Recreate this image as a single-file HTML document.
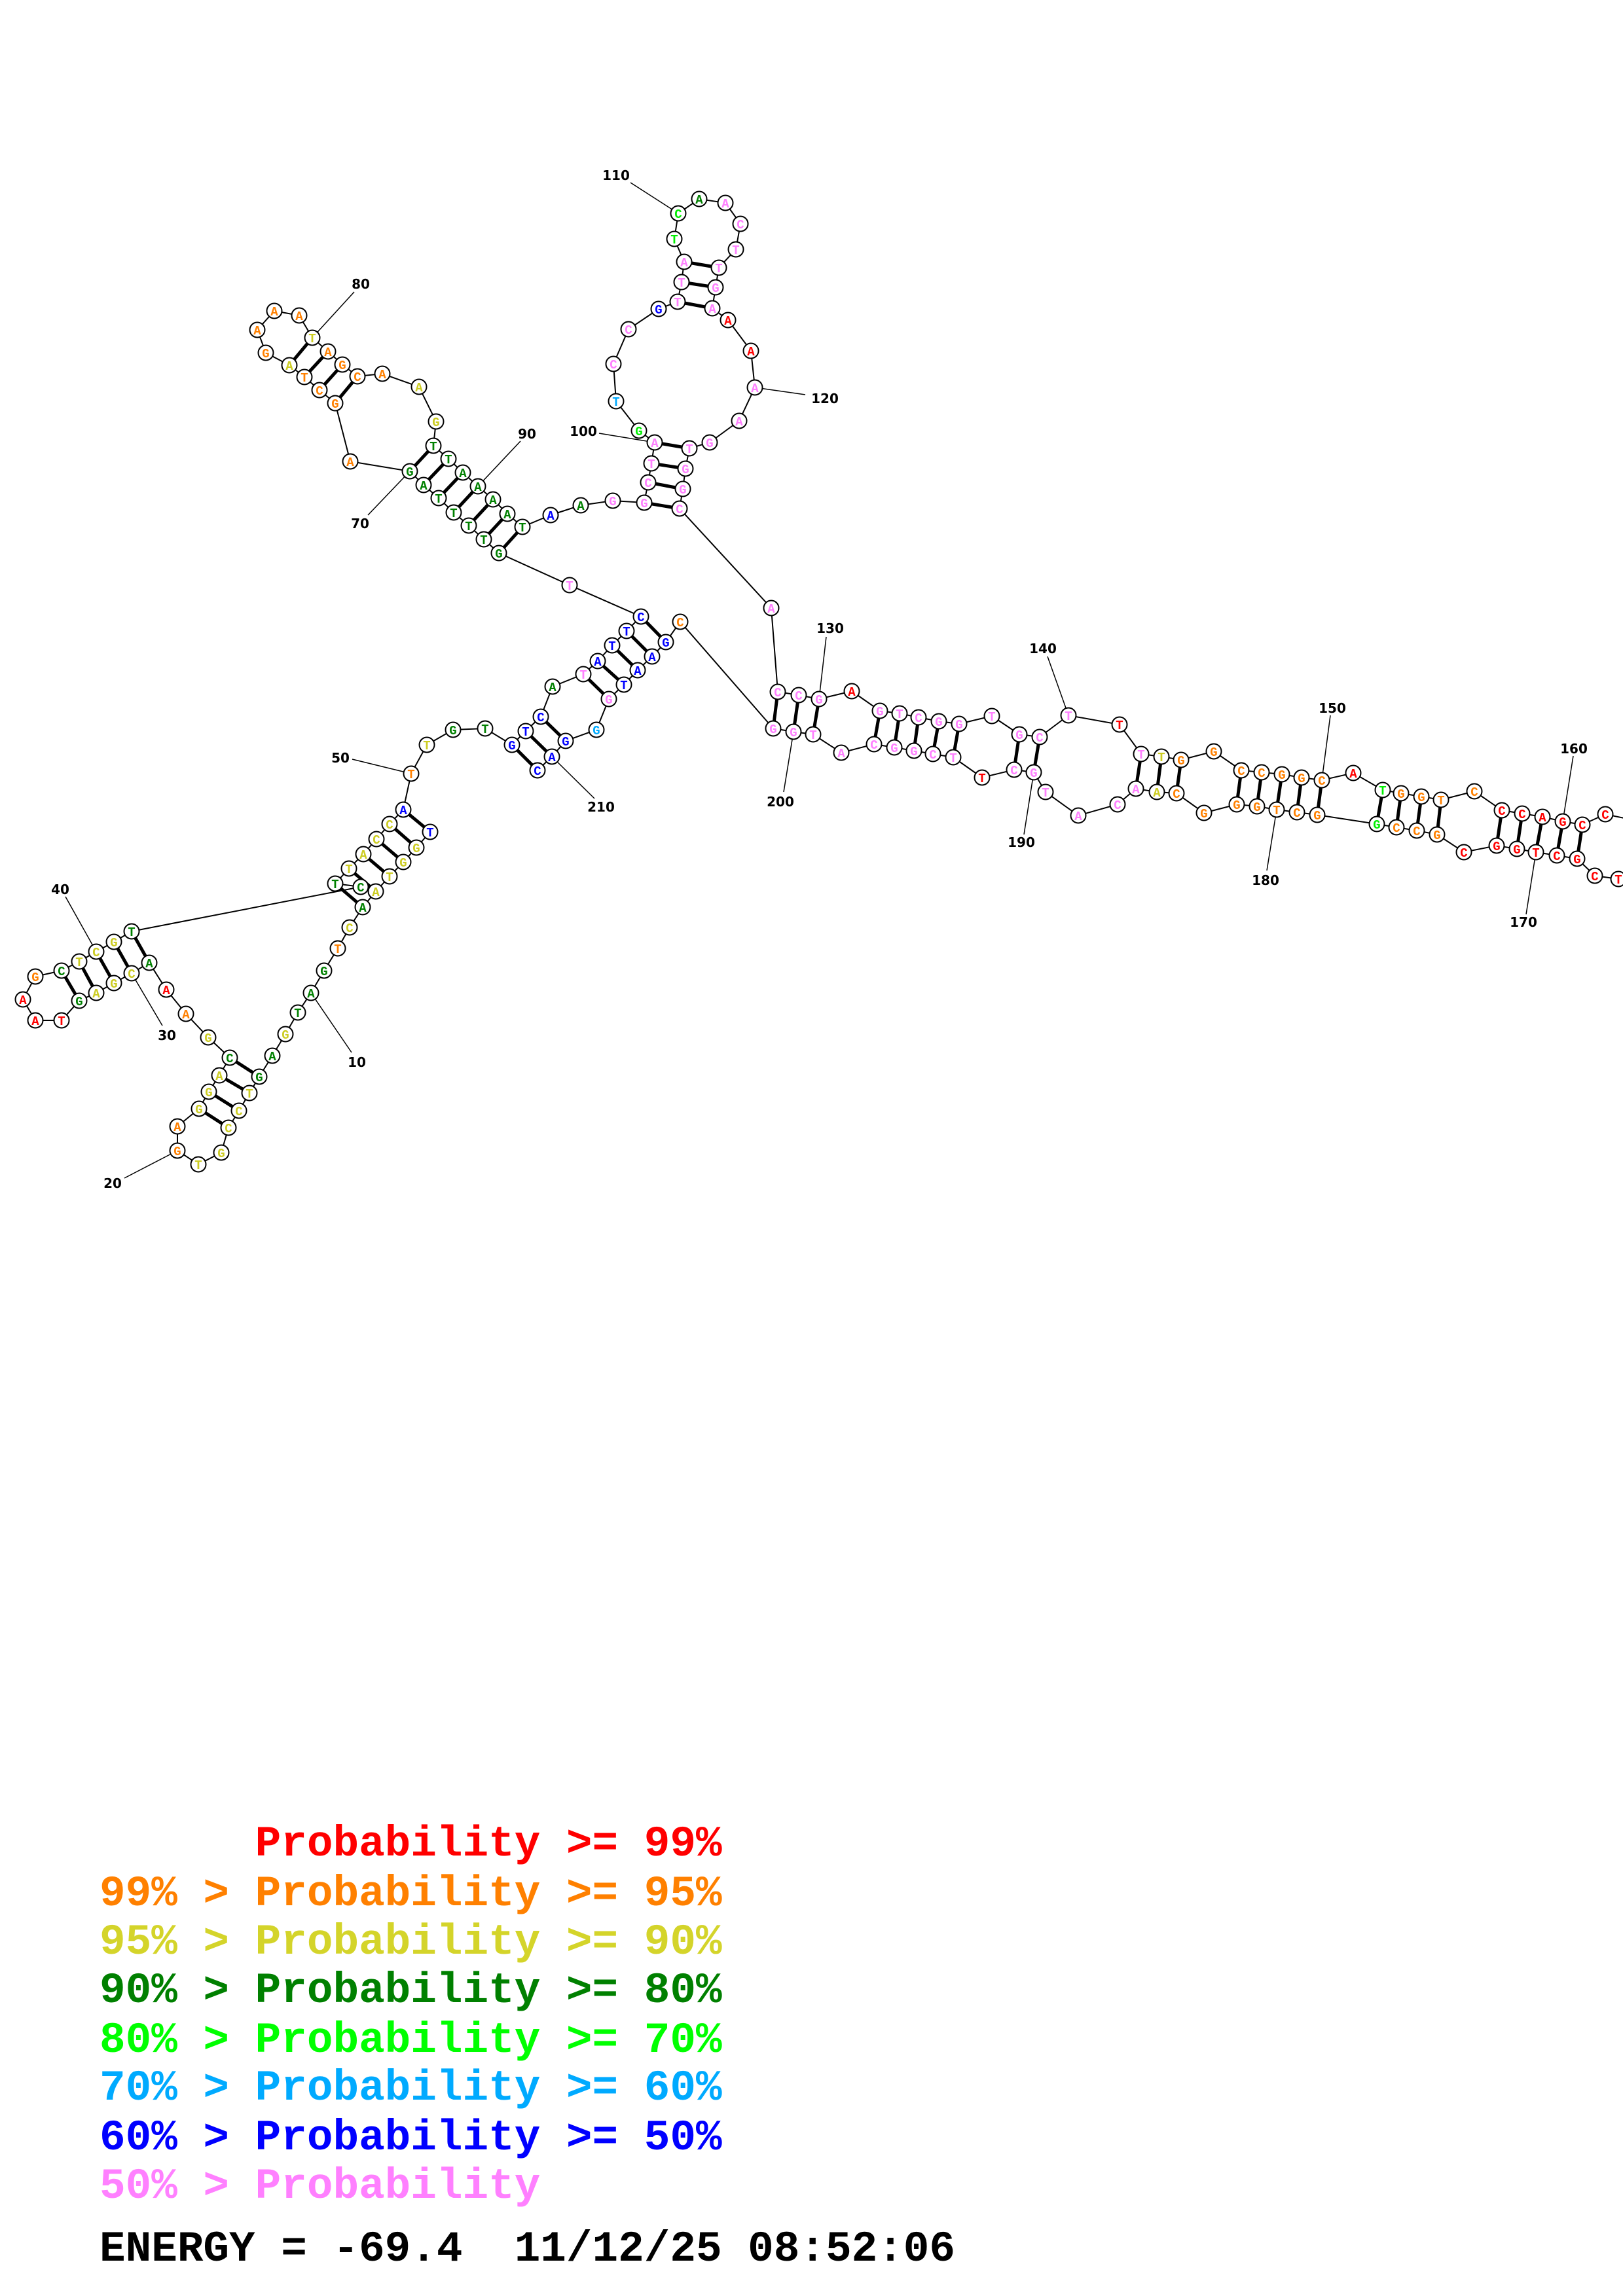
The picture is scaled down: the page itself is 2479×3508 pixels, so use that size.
<!DOCTYPE html>
<html><head><meta charset="utf-8">
<style>
html,body{margin:0;padding:0;background:#fff;}
svg{display:block;}
circle{fill:#fff;stroke:#000;stroke-width:2;}
.n{font-family:"Liberation Mono",monospace;font-weight:bold;font-size:19px;text-anchor:middle;}
.r{fill:#ff0000}.o{fill:#ff8000}.y{fill:#cccc22}.g{fill:#008000}.l{fill:#00ee00}.c{fill:#00aaff}.b{fill:#0000ff}.p{fill:#ff80ff}
.lab{font-family:"DejaVu Sans","Liberation Sans",sans-serif;font-weight:bold;font-size:20px;text-anchor:middle;fill:#000;}
.leg{font-family:"Liberation Mono",monospace;font-weight:bold;font-size:66px;white-space:pre;}
.bb{fill:none;stroke:#000;stroke-width:2;}
.pr{stroke:#000;stroke-width:5;}
.ll{stroke:#000;stroke-width:1.5;}
</style></head>
<body>
<svg width="2479" height="3508" viewBox="0 0 2479 3508" xmlns="http://www.w3.org/2000/svg">
<rect width="2479" height="3508" fill="#fff"/>
<!-- backbone -->
<polyline class="bb" points="657,1271 636,1295 616,1317 595,1339 574,1362 554,1386 534,1417 516,1449 495,1483 475,1517 455,1547 436,1580 416,1613 396,1645 381,1670 365,1697 349,1723 338,1761 303,1779 271,1758 271,1721 304,1694 319,1668 335,1643 351,1616 318,1585 284,1549 254,1512 228,1471 201,1487 174,1502 147,1517 121,1529 94,1559 54,1559 35,1527 54,1492 94,1483 121,1469 147,1454 174,1439 201,1423 551,1355 512,1350 533,1327 555,1305 575,1282 595,1259 616,1237 628,1182 652,1138 692,1115 741,1113 782,1138 803,1117 826,1095 844,1049 891,1030 913,1010 935,986 957,964 979,942 870,894 762,845 739,824 716,803 693,783 670,761 647,741 626,720 535,705 512,616 488,596 465,576 442,558 406,539 393,504 419,475 457,482 477,516 501,537 523,557 546,575 584,571 640,591 666,644 662,681 685,701 707,722 730,743 753,763 775,785 798,805 841,787 887,772 936,765 984,768 990,737 995,708 1000,676 976,658 941,613 937,556 960,503 1006,472 1035,461 1041,431 1045,400 1030,365 1036,326 1068,304 1108,310 1131,342 1124,381 1098,409 1093,439 1088,471 1112,489 1147,536 1153,592 1129,643 1084,676 1053,685 1047,716 1043,747 1038,777 1178,929 1188,1057 1220,1062 1251,1068 1301,1056 1344,1086 1374,1090 1403,1096 1434,1102 1465,1106 1515,1094 1557,1122 1588,1126 1632,1093 1710,1107 1743,1152 1774,1156 1804,1161 1854,1148 1896,1177 1927,1180 1958,1183 1988,1188 2019,1192 2067,1181 2112,1207 2140,1212 2171,1217 2201,1222 2252,1209 2294,1238 2325,1243 2356,1248 2387,1255 2417,1260 2452,1244 2505,1255 2520,1290 2505,1340 2472,1343 2436,1338 2409,1312 2378,1307 2346,1302 2317,1297 2286,1292 2236,1302 2195,1275 2164,1269 2133,1264 2103,1259 2012,1245 1981,1241 1950,1237 1920,1232 1889,1229 1839,1242 1797,1212 1767,1210 1735,1205 1707,1229 1647,1246 1597,1210 1579,1180 1549,1176 1500,1188 1456,1157 1425,1152 1396,1147 1366,1142 1335,1137 1285,1150 1242,1122 1212,1118 1181,1113 1039,950 1017,981 996,1003 974,1024 953,1046 930,1068 911,1115 864,1132 843,1156 821,1177"/>
<!-- pairs -->
<g class="pr">
<line x1="657" y1="1271" x2="616" y2="1237"/><line x1="636" y1="1295" x2="595" y2="1259"/><line x1="616" y1="1317" x2="575" y2="1282"/><line x1="595" y1="1339" x2="555" y2="1305"/><line x1="574" y1="1362" x2="533" y2="1327"/><line x1="554" y1="1386" x2="512" y2="1350"/>
<line x1="396" y1="1645" x2="351" y2="1616"/><line x1="381" y1="1670" x2="335" y2="1643"/><line x1="365" y1="1697" x2="319" y2="1668"/><line x1="349" y1="1723" x2="304" y2="1694"/>
<line x1="228" y1="1471" x2="201" y2="1423"/><line x1="201" y1="1487" x2="174" y2="1439"/><line x1="174" y1="1502" x2="147" y2="1454"/><line x1="147" y1="1517" x2="121" y2="1469"/><line x1="121" y1="1529" x2="94" y2="1483"/>
<line x1="782" y1="1138" x2="821" y2="1177"/><line x1="803" y1="1117" x2="843" y2="1156"/><line x1="826" y1="1095" x2="864" y2="1132"/>
<line x1="891" y1="1030" x2="930" y2="1068"/><line x1="913" y1="1010" x2="953" y2="1046"/><line x1="935" y1="986" x2="974" y2="1024"/><line x1="957" y1="964" x2="996" y2="1003"/><line x1="979" y1="942" x2="1017" y2="981"/>
<line x1="762" y1="845" x2="798" y2="805"/><line x1="739" y1="824" x2="775" y2="785"/><line x1="716" y1="803" x2="753" y2="763"/><line x1="693" y1="783" x2="730" y2="743"/><line x1="670" y1="761" x2="707" y2="722"/><line x1="647" y1="741" x2="685" y2="701"/><line x1="626" y1="720" x2="662" y2="681"/>
<line x1="512" y1="616" x2="546" y2="575"/><line x1="488" y1="596" x2="523" y2="557"/><line x1="465" y1="576" x2="501" y2="537"/><line x1="442" y1="558" x2="477" y2="516"/>
<line x1="984" y1="768" x2="1038" y2="777"/><line x1="990" y1="737" x2="1043" y2="747"/><line x1="995" y1="708" x2="1047" y2="716"/><line x1="1000" y1="676" x2="1053" y2="685"/>
<line x1="1035" y1="461" x2="1088" y2="471"/><line x1="1041" y1="431" x2="1093" y2="439"/><line x1="1045" y1="400" x2="1098" y2="409"/>
<line x1="1188" y1="1057" x2="1181" y2="1113"/><line x1="1220" y1="1062" x2="1212" y2="1118"/><line x1="1251" y1="1068" x2="1242" y2="1122"/>
<line x1="1344" y1="1086" x2="1335" y2="1137"/><line x1="1374" y1="1090" x2="1366" y2="1142"/><line x1="1403" y1="1096" x2="1396" y2="1147"/><line x1="1434" y1="1102" x2="1425" y2="1152"/><line x1="1465" y1="1106" x2="1456" y2="1157"/>
<line x1="1557" y1="1122" x2="1549" y2="1176"/><line x1="1588" y1="1126" x2="1579" y2="1180"/>
<line x1="1743" y1="1152" x2="1735" y2="1205"/><line x1="1774" y1="1156" x2="1767" y2="1210"/><line x1="1804" y1="1161" x2="1797" y2="1212"/>
<line x1="1896" y1="1177" x2="1889" y2="1229"/><line x1="1927" y1="1180" x2="1920" y2="1232"/><line x1="1958" y1="1183" x2="1950" y2="1237"/><line x1="1988" y1="1188" x2="1981" y2="1241"/><line x1="2019" y1="1192" x2="2012" y2="1245"/>
<line x1="2112" y1="1207" x2="2103" y2="1259"/><line x1="2140" y1="1212" x2="2133" y2="1264"/><line x1="2171" y1="1217" x2="2164" y2="1269"/><line x1="2201" y1="1222" x2="2195" y2="1275"/>
<line x1="2294" y1="1238" x2="2286" y2="1292"/><line x1="2325" y1="1243" x2="2317" y2="1297"/><line x1="2356" y1="1248" x2="2346" y2="1302"/><line x1="2387" y1="1255" x2="2378" y2="1307"/><line x1="2417" y1="1260" x2="2409" y2="1312"/>
</g>
<!-- label lines -->
<g class="ll">
<line x1="475" y1="1517" x2="537" y2="1608"/><line x1="271" y1="1758" x2="190" y2="1800"/><line x1="201" y1="1487" x2="248" y2="1567"/><line x1="147" y1="1454" x2="100" y2="1370"/>
<line x1="628" y1="1182" x2="538" y2="1160"/><line x1="626" y1="720" x2="562" y2="787"/><line x1="477" y1="516" x2="541" y2="446"/><line x1="730" y1="743" x2="795" y2="674"/>
<line x1="1000" y1="676" x2="915" y2="662"/><line x1="1036" y1="326" x2="963" y2="279"/><line x1="1153" y1="592" x2="1230" y2="603"/><line x1="1251" y1="1068" x2="1262" y2="973"/>
<line x1="1632" y1="1093" x2="1600" y2="1003"/><line x1="2019" y1="1192" x2="2032" y2="1093"/><line x1="2387" y1="1255" x2="2403" y2="1155"/><line x1="2346" y1="1302" x2="2331" y2="1397"/>
<line x1="1950" y1="1237" x2="1935" y2="1330"/><line x1="1579" y1="1180" x2="1564" y2="1275"/><line x1="1212" y1="1118" x2="1197" y2="1210"/><line x1="843" y1="1156" x2="908" y2="1220"/>
</g>
<!-- labels -->
<g class="lab">
<text x="545" y="1630">10</text><text x="172" y="1815">20</text><text x="255" y="1589">30</text><text x="92" y="1366">40</text>
<text x="520" y="1165">50</text><text x="550" y="807">70</text><text x="551" y="441">80</text><text x="805" y="670">90</text>
<text x="891" y="666">100</text><text x="941" y="275">110</text><text x="1260" y="616">120</text><text x="1268" y="967">130</text>
<text x="1593" y="998">140</text><text x="2035" y="1089">150</text><text x="2404" y="1151">160</text><text x="2327" y="1416">170</text>
<text x="1933" y="1352">180</text><text x="1560" y="1294">190</text><text x="1192" y="1232">200</text><text x="918" y="1240">210</text>
</g>
<!-- nucleotides -->
<g>
<circle cx="657" cy="1271" r="11.5"/><circle cx="636" cy="1295" r="11.5"/><circle cx="616" cy="1317" r="11.5"/><circle cx="595" cy="1339" r="11.5"/><circle cx="574" cy="1362" r="11.5"/><circle cx="554" cy="1386" r="11.5"/><circle cx="534" cy="1417" r="11.5"/><circle cx="516" cy="1449" r="11.5"/><circle cx="495" cy="1483" r="11.5"/><circle cx="475" cy="1517" r="11.5"/>
<circle cx="455" cy="1547" r="11.5"/><circle cx="436" cy="1580" r="11.5"/><circle cx="416" cy="1613" r="11.5"/><circle cx="396" cy="1645" r="11.5"/><circle cx="381" cy="1670" r="11.5"/><circle cx="365" cy="1697" r="11.5"/><circle cx="349" cy="1723" r="11.5"/><circle cx="338" cy="1761" r="11.5"/><circle cx="303" cy="1779" r="11.5"/><circle cx="271" cy="1758" r="11.5"/>
<circle cx="271" cy="1721" r="11.5"/><circle cx="304" cy="1694" r="11.5"/><circle cx="319" cy="1668" r="11.5"/><circle cx="335" cy="1643" r="11.5"/><circle cx="351" cy="1616" r="11.5"/><circle cx="318" cy="1585" r="11.5"/><circle cx="284" cy="1549" r="11.5"/><circle cx="254" cy="1512" r="11.5"/><circle cx="228" cy="1471" r="11.5"/><circle cx="201" cy="1487" r="11.5"/>
<circle cx="174" cy="1502" r="11.5"/><circle cx="147" cy="1517" r="11.5"/><circle cx="121" cy="1529" r="11.5"/><circle cx="94" cy="1559" r="11.5"/><circle cx="54" cy="1559" r="11.5"/><circle cx="35" cy="1527" r="11.5"/><circle cx="54" cy="1492" r="11.5"/><circle cx="94" cy="1483" r="11.5"/><circle cx="121" cy="1469" r="11.5"/><circle cx="147" cy="1454" r="11.5"/>
<circle cx="174" cy="1439" r="11.5"/><circle cx="201" cy="1423" r="11.5"/><circle cx="551" cy="1355" r="11.5"/><circle cx="512" cy="1350" r="11.5"/><circle cx="533" cy="1327" r="11.5"/><circle cx="555" cy="1305" r="11.5"/><circle cx="575" cy="1282" r="11.5"/><circle cx="595" cy="1259" r="11.5"/><circle cx="616" cy="1237" r="11.5"/><circle cx="628" cy="1182" r="11.5"/>
<circle cx="652" cy="1138" r="11.5"/><circle cx="692" cy="1115" r="11.5"/><circle cx="741" cy="1113" r="11.5"/><circle cx="782" cy="1138" r="11.5"/><circle cx="803" cy="1117" r="11.5"/><circle cx="826" cy="1095" r="11.5"/><circle cx="844" cy="1049" r="11.5"/><circle cx="891" cy="1030" r="11.5"/><circle cx="913" cy="1010" r="11.5"/><circle cx="935" cy="986" r="11.5"/>
<circle cx="957" cy="964" r="11.5"/><circle cx="979" cy="942" r="11.5"/><circle cx="870" cy="894" r="11.5"/><circle cx="762" cy="845" r="11.5"/><circle cx="739" cy="824" r="11.5"/><circle cx="716" cy="803" r="11.5"/><circle cx="693" cy="783" r="11.5"/><circle cx="670" cy="761" r="11.5"/><circle cx="647" cy="741" r="11.5"/><circle cx="626" cy="720" r="11.5"/>
<circle cx="535" cy="705" r="11.5"/><circle cx="512" cy="616" r="11.5"/><circle cx="488" cy="596" r="11.5"/><circle cx="465" cy="576" r="11.5"/><circle cx="442" cy="558" r="11.5"/><circle cx="406" cy="539" r="11.5"/><circle cx="393" cy="504" r="11.5"/><circle cx="419" cy="475" r="11.5"/><circle cx="457" cy="482" r="11.5"/><circle cx="477" cy="516" r="11.5"/>
<circle cx="501" cy="537" r="11.5"/><circle cx="523" cy="557" r="11.5"/><circle cx="546" cy="575" r="11.5"/><circle cx="584" cy="571" r="11.5"/><circle cx="640" cy="591" r="11.5"/><circle cx="666" cy="644" r="11.5"/><circle cx="662" cy="681" r="11.5"/><circle cx="685" cy="701" r="11.5"/><circle cx="707" cy="722" r="11.5"/><circle cx="730" cy="743" r="11.5"/>
<circle cx="753" cy="763" r="11.5"/><circle cx="775" cy="785" r="11.5"/><circle cx="798" cy="805" r="11.5"/><circle cx="841" cy="787" r="11.5"/><circle cx="887" cy="772" r="11.5"/><circle cx="936" cy="765" r="11.5"/><circle cx="984" cy="768" r="11.5"/><circle cx="990" cy="737" r="11.5"/><circle cx="995" cy="708" r="11.5"/><circle cx="1000" cy="676" r="11.5"/>
<circle cx="976" cy="658" r="11.5"/><circle cx="941" cy="613" r="11.5"/><circle cx="937" cy="556" r="11.5"/><circle cx="960" cy="503" r="11.5"/><circle cx="1006" cy="472" r="11.5"/><circle cx="1035" cy="461" r="11.5"/><circle cx="1041" cy="431" r="11.5"/><circle cx="1045" cy="400" r="11.5"/><circle cx="1030" cy="365" r="11.5"/><circle cx="1036" cy="326" r="11.5"/>
<circle cx="1068" cy="304" r="11.5"/><circle cx="1108" cy="310" r="11.5"/><circle cx="1131" cy="342" r="11.5"/><circle cx="1124" cy="381" r="11.5"/><circle cx="1098" cy="409" r="11.5"/><circle cx="1093" cy="439" r="11.5"/><circle cx="1088" cy="471" r="11.5"/><circle cx="1112" cy="489" r="11.5"/><circle cx="1147" cy="536" r="11.5"/><circle cx="1153" cy="592" r="11.5"/>
<circle cx="1129" cy="643" r="11.5"/><circle cx="1084" cy="676" r="11.5"/><circle cx="1053" cy="685" r="11.5"/><circle cx="1047" cy="716" r="11.5"/><circle cx="1043" cy="747" r="11.5"/><circle cx="1038" cy="777" r="11.5"/><circle cx="1178" cy="929" r="11.5"/><circle cx="1188" cy="1057" r="11.5"/><circle cx="1220" cy="1062" r="11.5"/><circle cx="1251" cy="1068" r="11.5"/>
<circle cx="1301" cy="1056" r="11.5"/><circle cx="1344" cy="1086" r="11.5"/><circle cx="1374" cy="1090" r="11.5"/><circle cx="1403" cy="1096" r="11.5"/><circle cx="1434" cy="1102" r="11.5"/><circle cx="1465" cy="1106" r="11.5"/><circle cx="1515" cy="1094" r="11.5"/><circle cx="1557" cy="1122" r="11.5"/><circle cx="1588" cy="1126" r="11.5"/><circle cx="1632" cy="1093" r="11.5"/>
<circle cx="1710" cy="1107" r="11.5"/><circle cx="1743" cy="1152" r="11.5"/><circle cx="1774" cy="1156" r="11.5"/><circle cx="1804" cy="1161" r="11.5"/><circle cx="1854" cy="1148" r="11.5"/><circle cx="1896" cy="1177" r="11.5"/><circle cx="1927" cy="1180" r="11.5"/><circle cx="1958" cy="1183" r="11.5"/><circle cx="1988" cy="1188" r="11.5"/><circle cx="2019" cy="1192" r="11.5"/>
<circle cx="2067" cy="1181" r="11.5"/><circle cx="2112" cy="1207" r="11.5"/><circle cx="2140" cy="1212" r="11.5"/><circle cx="2171" cy="1217" r="11.5"/><circle cx="2201" cy="1222" r="11.5"/><circle cx="2252" cy="1209" r="11.5"/><circle cx="2294" cy="1238" r="11.5"/><circle cx="2325" cy="1243" r="11.5"/><circle cx="2356" cy="1248" r="11.5"/><circle cx="2387" cy="1255" r="11.5"/>
<circle cx="2417" cy="1260" r="11.5"/><circle cx="2452" cy="1244" r="11.5"/><circle cx="2472" cy="1343" r="11.5"/><circle cx="2436" cy="1338" r="11.5"/><circle cx="2409" cy="1312" r="11.5"/><circle cx="2378" cy="1307" r="11.5"/><circle cx="2346" cy="1302" r="11.5"/><circle cx="2317" cy="1297" r="11.5"/><circle cx="2286" cy="1292" r="11.5"/><circle cx="2236" cy="1302" r="11.5"/>
<circle cx="2195" cy="1275" r="11.5"/><circle cx="2164" cy="1269" r="11.5"/><circle cx="2133" cy="1264" r="11.5"/><circle cx="2103" cy="1259" r="11.5"/><circle cx="2012" cy="1245" r="11.5"/><circle cx="1981" cy="1241" r="11.5"/><circle cx="1950" cy="1237" r="11.5"/><circle cx="1920" cy="1232" r="11.5"/><circle cx="1889" cy="1229" r="11.5"/><circle cx="1839" cy="1242" r="11.5"/>
<circle cx="1797" cy="1212" r="11.5"/><circle cx="1767" cy="1210" r="11.5"/><circle cx="1735" cy="1205" r="11.5"/><circle cx="1707" cy="1229" r="11.5"/><circle cx="1647" cy="1246" r="11.5"/><circle cx="1597" cy="1210" r="11.5"/><circle cx="1579" cy="1180" r="11.5"/><circle cx="1549" cy="1176" r="11.5"/><circle cx="1500" cy="1188" r="11.5"/><circle cx="1456" cy="1157" r="11.5"/>
<circle cx="1425" cy="1152" r="11.5"/><circle cx="1396" cy="1147" r="11.5"/><circle cx="1366" cy="1142" r="11.5"/><circle cx="1335" cy="1137" r="11.5"/><circle cx="1285" cy="1150" r="11.5"/><circle cx="1242" cy="1122" r="11.5"/><circle cx="1212" cy="1118" r="11.5"/><circle cx="1181" cy="1113" r="11.5"/><circle cx="1039" cy="950" r="11.5"/><circle cx="1017" cy="981" r="11.5"/>
<circle cx="996" cy="1003" r="11.5"/><circle cx="974" cy="1024" r="11.5"/><circle cx="953" cy="1046" r="11.5"/><circle cx="930" cy="1068" r="11.5"/><circle cx="911" cy="1115" r="11.5"/><circle cx="864" cy="1132" r="11.5"/><circle cx="843" cy="1156" r="11.5"/><circle cx="821" cy="1177" r="11.5"/>
</g>
<g class="n">
<text x="657" y="1278" class="b">T</text><text x="636" y="1302" class="y">G</text><text x="616" y="1324" class="y">G</text><text x="595" y="1346" class="y">T</text><text x="574" y="1369" class="y">A</text><text x="554" y="1393" class="g">A</text><text x="534" y="1424" class="y">C</text><text x="516" y="1456" class="o">T</text><text x="495" y="1490" class="g">G</text><text x="475" y="1524" class="g">A</text>
<text x="455" y="1554" class="g">T</text><text x="436" y="1587" class="y">G</text><text x="416" y="1620" class="g">A</text><text x="396" y="1652" class="g">G</text><text x="381" y="1677" class="y">T</text><text x="365" y="1704" class="y">C</text><text x="349" y="1730" class="y">C</text><text x="338" y="1768" class="y">G</text><text x="303" y="1786" class="y">T</text><text x="271" y="1765" class="o">G</text>
<text x="271" y="1728" class="o">A</text><text x="304" y="1701" class="y">G</text><text x="319" y="1675" class="y">G</text><text x="335" y="1650" class="y">A</text><text x="351" y="1623" class="g">C</text><text x="318" y="1592" class="y">G</text><text x="284" y="1556" class="o">A</text><text x="254" y="1519" class="r">A</text><text x="228" y="1478" class="g">A</text><text x="201" y="1494" class="y">C</text>
<text x="174" y="1509" class="y">G</text><text x="147" y="1524" class="y">A</text><text x="121" y="1536" class="g">G</text><text x="94" y="1566" class="r">T</text><text x="54" y="1566" class="r">A</text><text x="35" y="1534" class="r">A</text><text x="54" y="1499" class="o">G</text><text x="94" y="1490" class="g">C</text><text x="121" y="1476" class="y">T</text><text x="147" y="1461" class="y">C</text>
<text x="174" y="1446" class="y">G</text><text x="201" y="1430" class="g">T</text><text x="551" y="1362" class="g">C</text><text x="512" y="1357" class="g">T</text><text x="533" y="1334" class="y">T</text><text x="555" y="1312" class="y">A</text><text x="575" y="1289" class="y">C</text><text x="595" y="1266" class="y">C</text><text x="616" y="1244" class="b">A</text><text x="628" y="1189" class="o">T</text>
<text x="652" y="1145" class="y">T</text><text x="692" y="1122" class="g">G</text><text x="741" y="1120" class="g">T</text><text x="782" y="1145" class="b">G</text><text x="803" y="1124" class="b">T</text><text x="826" y="1102" class="b">C</text><text x="844" y="1056" class="g">A</text><text x="891" y="1037" class="p">T</text><text x="913" y="1017" class="b">A</text><text x="935" y="993" class="b">T</text>
<text x="957" y="971" class="b">T</text><text x="979" y="949" class="b">C</text><text x="870" y="901" class="p">T</text><text x="762" y="852" class="g">G</text><text x="739" y="831" class="g">T</text><text x="716" y="810" class="g">T</text><text x="693" y="790" class="g">T</text><text x="670" y="768" class="g">T</text><text x="647" y="748" class="g">A</text><text x="626" y="727" class="g">G</text>
<text x="535" y="712" class="o">A</text><text x="512" y="623" class="o">G</text><text x="488" y="603" class="o">C</text><text x="465" y="583" class="o">T</text><text x="442" y="565" class="y">A</text><text x="406" y="546" class="o">G</text><text x="393" y="511" class="o">A</text><text x="419" y="482" class="o">A</text><text x="457" y="489" class="o">A</text><text x="477" y="523" class="y">T</text>
<text x="501" y="544" class="o">A</text><text x="523" y="564" class="o">G</text><text x="546" y="582" class="o">C</text><text x="584" y="578" class="o">A</text><text x="640" y="598" class="y">A</text><text x="666" y="651" class="y">G</text><text x="662" y="688" class="g">T</text><text x="685" y="708" class="g">T</text><text x="707" y="729" class="g">A</text><text x="730" y="750" class="g">A</text>
<text x="753" y="770" class="g">A</text><text x="775" y="792" class="g">A</text><text x="798" y="812" class="g">T</text><text x="841" y="794" class="b">A</text><text x="887" y="779" class="g">A</text><text x="936" y="772" class="p">G</text><text x="984" y="775" class="p">G</text><text x="990" y="744" class="p">C</text><text x="995" y="715" class="p">T</text><text x="1000" y="683" class="p">A</text>
<text x="976" y="665" class="l">G</text><text x="941" y="620" class="c">T</text><text x="937" y="563" class="p">C</text><text x="960" y="510" class="p">C</text><text x="1006" y="479" class="b">G</text><text x="1035" y="468" class="p">T</text><text x="1041" y="438" class="p">T</text><text x="1045" y="407" class="p">A</text><text x="1030" y="372" class="l">T</text><text x="1036" y="333" class="l">C</text>
<text x="1068" y="311" class="g">A</text><text x="1108" y="317" class="p">A</text><text x="1131" y="349" class="p">C</text><text x="1124" y="388" class="p">T</text><text x="1098" y="416" class="p">T</text><text x="1093" y="446" class="p">G</text><text x="1088" y="478" class="p">A</text><text x="1112" y="496" class="r">A</text><text x="1147" y="543" class="r">A</text><text x="1153" y="599" class="p">A</text>
<text x="1129" y="650" class="p">A</text><text x="1084" y="683" class="p">G</text><text x="1053" y="692" class="p">T</text><text x="1047" y="723" class="p">G</text><text x="1043" y="754" class="p">G</text><text x="1038" y="784" class="p">C</text><text x="1178" y="936" class="p">A</text><text x="1188" y="1064" class="p">C</text><text x="1220" y="1069" class="p">C</text><text x="1251" y="1075" class="p">G</text>
<text x="1301" y="1063" class="r">A</text><text x="1344" y="1093" class="p">G</text><text x="1374" y="1097" class="p">T</text><text x="1403" y="1103" class="p">C</text><text x="1434" y="1109" class="p">G</text><text x="1465" y="1113" class="p">G</text><text x="1515" y="1101" class="p">T</text><text x="1557" y="1129" class="p">G</text><text x="1588" y="1133" class="p">C</text><text x="1632" y="1100" class="p">T</text>
<text x="1710" y="1114" class="r">T</text><text x="1743" y="1159" class="p">T</text><text x="1774" y="1163" class="y">T</text><text x="1804" y="1168" class="o">G</text><text x="1854" y="1155" class="o">G</text><text x="1896" y="1184" class="o">C</text><text x="1927" y="1187" class="o">C</text><text x="1958" y="1190" class="o">G</text><text x="1988" y="1195" class="o">G</text><text x="2019" y="1199" class="o">C</text>
<text x="2067" y="1188" class="r">A</text><text x="2112" y="1214" class="l">T</text><text x="2140" y="1219" class="o">G</text><text x="2171" y="1224" class="o">G</text><text x="2201" y="1229" class="o">T</text><text x="2252" y="1216" class="o">C</text><text x="2294" y="1245" class="r">C</text><text x="2325" y="1250" class="r">C</text><text x="2356" y="1255" class="r">A</text><text x="2387" y="1262" class="r">G</text>
<text x="2417" y="1267" class="r">C</text><text x="2452" y="1251" class="r">C</text><text x="2472" y="1350" class="r">T</text><text x="2436" y="1345" class="r">C</text><text x="2409" y="1319" class="r">G</text><text x="2378" y="1314" class="r">C</text><text x="2346" y="1309" class="r">T</text><text x="2317" y="1304" class="r">G</text><text x="2286" y="1299" class="r">G</text><text x="2236" y="1309" class="r">C</text>
<text x="2195" y="1282" class="o">G</text><text x="2164" y="1276" class="o">C</text><text x="2133" y="1271" class="o">C</text><text x="2103" y="1266" class="l">G</text><text x="2012" y="1252" class="o">G</text><text x="1981" y="1248" class="o">C</text><text x="1950" y="1244" class="o">T</text><text x="1920" y="1239" class="o">G</text><text x="1889" y="1236" class="o">G</text><text x="1839" y="1249" class="o">G</text>
<text x="1797" y="1219" class="o">C</text><text x="1767" y="1217" class="y">A</text><text x="1735" y="1212" class="p">A</text><text x="1707" y="1236" class="p">C</text><text x="1647" y="1253" class="p">A</text><text x="1597" y="1217" class="p">T</text><text x="1579" y="1187" class="p">G</text><text x="1549" y="1183" class="p">C</text><text x="1500" y="1195" class="r">T</text><text x="1456" y="1164" class="p">T</text>
<text x="1425" y="1159" class="p">C</text><text x="1396" y="1154" class="p">G</text><text x="1366" y="1149" class="p">G</text><text x="1335" y="1144" class="p">C</text><text x="1285" y="1157" class="p">A</text><text x="1242" y="1129" class="p">T</text><text x="1212" y="1125" class="p">G</text><text x="1181" y="1120" class="p">G</text><text x="1039" y="957" class="o">C</text><text x="1017" y="988" class="b">G</text>
<text x="996" y="1010" class="b">A</text><text x="974" y="1031" class="b">A</text><text x="953" y="1053" class="b">T</text><text x="930" y="1075" class="p">G</text><text x="911" y="1122" class="c">G</text><text x="864" y="1139" class="b">G</text><text x="843" y="1163" class="b">A</text><text x="821" y="1184" class="b">C</text>
</g>
<!-- legend -->
<g class="leg">
<text x="152" y="2835" xml:space="preserve" class="r">      Probability &gt;= 99%</text>
<text x="152" y="2911" xml:space="preserve" class="o">99% &gt; Probability &gt;= 95%</text>
<text x="152" y="2985" xml:space="preserve" fill="#d4d42a">95% &gt; Probability &gt;= 90%</text>
<text x="152" y="3059" xml:space="preserve" class="g">90% &gt; Probability &gt;= 80%</text>
<text x="152" y="3135" xml:space="preserve" fill="#00ff00">80% &gt; Probability &gt;= 70%</text>
<text x="152" y="3208" xml:space="preserve" class="c">70% &gt; Probability &gt;= 60%</text>
<text x="152" y="3284" xml:space="preserve" class="b">60% &gt; Probability &gt;= 50%</text>
<text x="152" y="3358" xml:space="preserve" class="p">50% &gt; Probability</text>
<text x="152" y="3454" xml:space="preserve" fill="#000">ENERGY = -69.4  11/12/25 08:52:06</text>
</g>
</svg>
</body></html>
